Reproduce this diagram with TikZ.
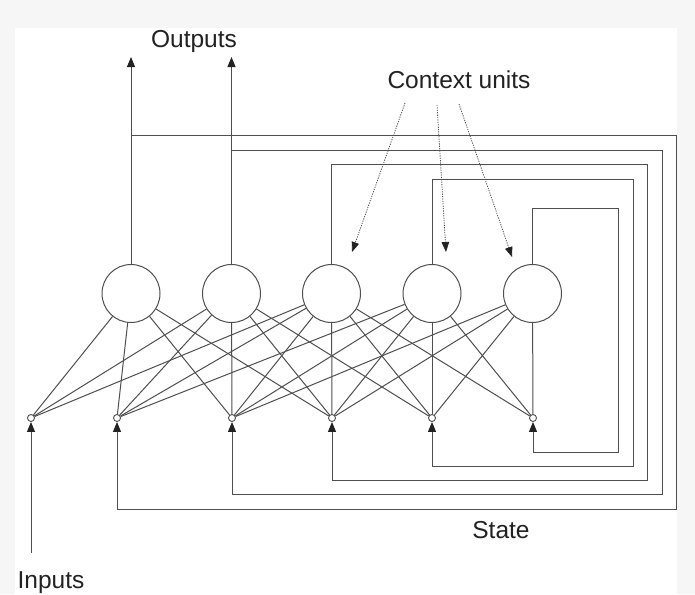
\documentclass[tikz,border=0pt]{standalone}
\usepackage{fontspec}
\setmainfont{Liberation Sans}
\usetikzlibrary{arrows.meta}
\definecolor{linegrey}{HTML}{4F4F4F}
\definecolor{ink}{HTML}{222222}
\definecolor{paper}{HTML}{F6F6F6}

\begin{document}
\begin{tikzpicture}[x=1pt,y=-1pt,
  wire/.style={draw=linegrey,line width=1pt},
  unit/.style={circle,draw=linegrey,line width=1pt,fill=white,minimum size=58pt,inner sep=0pt},
  port/.style={circle,draw=linegrey,line width=0.9pt,fill=white,minimum size=7pt,inner sep=0pt},
  arrowed/.style={wire,-{Triangle[length=10pt,width=8pt,color=ink]}},
  hint/.style={draw=linegrey,line width=0.8pt,dash pattern=on 1.2pt off 1.2pt,-{Triangle[length=10pt,width=7.5pt,color=ink]}},
  caption/.style={font=\fontsize{24.5}{29}\selectfont,text=ink,inner sep=0pt,anchor=base}
]
% page and backdrop
\useasboundingbox (0,0) rectangle (695,594);
\fill[paper] (0,0) rectangle (695,594);
\fill[white] (15,28) rectangle (677,594);

% hidden units
\node[unit] (h1) at (131,293.5) {};
\node[unit] (h2) at (231.5,293.5) {};
\node[unit] (h3) at (331.5,293.5) {};
\node[unit] (h4) at (432,293.5) {};
\node[unit] (h5) at (532.5,293.5) {};

% input / state ports
\node[port] (in1) at (31,418) {};
\node[port] (in2) at (117,418) {};
\node[port] (in3) at (232,418) {};
\node[port] (in4) at (332,418) {};
\node[port] (in5) at (432,418) {};
\node[port] (in6) at (533,418) {};

% weights between ports and units
\foreach \i/\js in {1/{1,2,3},2/{1,2,3,4},3/{1,2,3,4,5},4/{1,2,3,4,5},5/{2,3,4,5},6/{3,4,5}}
  \foreach \j in \js
    \draw[wire] (in\i) -- (h\j);

% output lines
\coordinate (o1) at (131,57);
\coordinate (o2) at (231.5,57);
\draw[arrowed] (h1.north) -- (o1);
\draw[arrowed] (h2.north) -- (o2);

% recurrent state loops: up, right, down, left, into the next port
\coordinate (a1) at (676,135);   \coordinate (b1) at (117,509);
\coordinate (a2) at (662,150);   \coordinate (b2) at (232,494);
\coordinate (a3) at (647,164);   \coordinate (b3) at (332,480);
\coordinate (a4) at (633,179);   \coordinate (b4) at (432,466);
\coordinate (a5) at (618,208);   \coordinate (b5) at (533,452);
\coordinate (t1) at (131,135);
\coordinate (t2) at (231.5,150);
\draw[arrowed] (t1) -| (a1) |- (b1) -- (in2.south);
\draw[arrowed] (t2) -| (a2) |- (b2) -- (in3.south);
\draw[arrowed] (h3.north) |- (a3) |- (b3) -- (in4.south);
\draw[arrowed] (h4.north) |- (a4) |- (b4) -- (in5.south);
\draw[arrowed] (h5.north) |- (a5) |- (b5) -- (in6.south);

% external input
\coordinate (x0) at (31,553);
\draw[arrowed] (x0) -- (in1.south);

% context-unit pointers
\coordinate (p1) at (405,103); \coordinate (q1) at (352,252);
\coordinate (p2) at (437,105); \coordinate (q2) at (446,252);
\coordinate (p3) at (459,104); \coordinate (q3) at (512,257);
\draw[hint] (p1) -- (q1);
\draw[hint] (p2) -- (q2);
\draw[hint] (p3) -- (q3);

% captions
\node[caption] (outputs) at (194,48) {Outputs};
\node[caption] (context) at (459,88) {Context units};
\node[caption] (state) at (501,538) {State};
\node[caption] (inputs) at (51,588) {Inputs};
\end{tikzpicture}
\end{document}
